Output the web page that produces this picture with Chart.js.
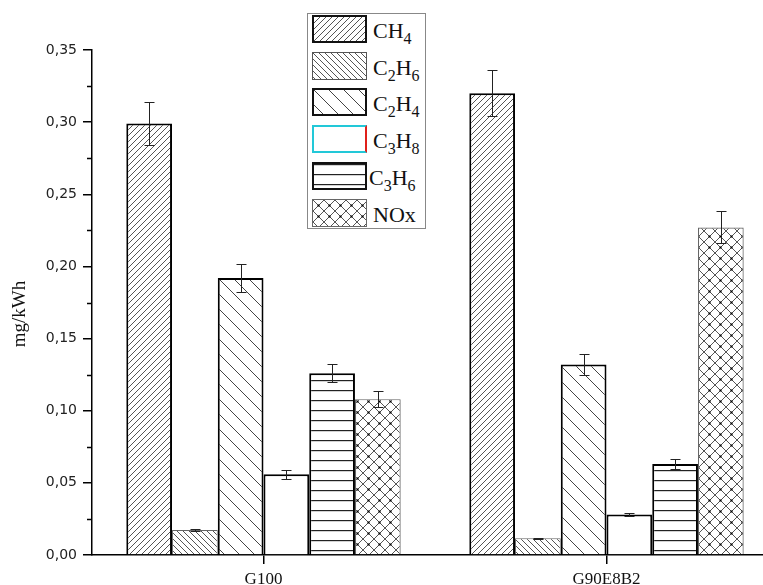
<!DOCTYPE html>
<html><head><meta charset="utf-8">
<script src="https://cdn.jsdelivr.net/npm/chart.js@4"></script>
<style>
html,body{margin:0;padding:0;overflow:hidden;background:#fff;}
#wrap{position:relative;width:763px;height:585px;overflow:hidden;}
#c{position:absolute;left:0;top:0;}
#legend{position:absolute;left:307px;top:13px;width:119px;height:216px;border:1px solid #888;box-sizing:border-box;background:#fff;font-family:'Liberation Serif',serif;color:#111;}
.row{position:absolute;left:4px;height:28px;width:110px;}
.sw{position:absolute;left:0;top:0;width:55px;height:28px;box-sizing:border-box;background-color:#fff;}
.lb{position:absolute;left:61px;top:2px;line-height:28px;font-size:22px;white-space:nowrap;}
.lb sub{font-size:16px;vertical-align:-6px;line-height:0;}
</style></head>
<body><div id="wrap"><canvas id="c" width="790" height="585"></canvas><div id="legend"></div></div>
<script>
// ---- data ----
const categories = ['G100', 'G90E8B2'];
const seriesNames = ['CH4', 'C2H6', 'C2H4', 'C3H8', 'C3H6', 'NOx'];
const legendLabels = ['CH<sub>4</sub>', 'C<sub>2</sub>H<sub>6</sub>', 'C<sub>2</sub>H<sub>4</sub>', 'C<sub>3</sub>H<sub>8</sub>', 'C<sub>3</sub>H<sub>6</sub>', 'NOx'];
const ch4  = [0.299, 0.320];
const c2h6 = [0.0173, 0.0116];
const c2h4 = [0.192, 0.132];
const c3h8 = [0.056, 0.028];
const c3h6 = [0.126, 0.063];
const nox  = [0.108, 0.227];
const ch4Err  = [0.015, 0.016];
const c2h6Err = [0.001, 0.0005];
const c2h4Err = [0.0095, 0.0073];
const c3h8Err = [0.003, 0.0013];
const c3h6Err = [0.0062, 0.0035];
const noxErr  = [0.0055, 0.0111];
const yMin = 0, yMax = 0.35, yStep = 0.05;
const yTitle = 'mg/kWh';

const values = [ch4, c2h6, c2h4, c3h8, c3h6, nox];
const errors = [ch4Err, c2h6Err, c2h4Err, c3h8Err, c3h6Err, noxErr];

// ---- patterns ----
function tile(size, draw){
  const c = document.createElement('canvas'); c.width = size; c.height = size;
  const x = c.getContext('2d'); x.fillStyle = '#fff'; x.fillRect(0,0,size,size);
  draw(x, size); return c;
}
function fwd(x,s,col,lw){ x.strokeStyle=col; x.lineWidth=lw; x.beginPath();
  x.moveTo(-1,s+1); x.lineTo(s+1,-1); x.moveTo(-1,1); x.lineTo(1,-1); x.moveTo(s-1,s+1); x.lineTo(s+1,s-1); x.stroke(); }
function back(x,s,col,lw){ x.strokeStyle=col; x.lineWidth=lw; x.beginPath();
  x.moveTo(-1,-1); x.lineTo(s+1,s+1); x.moveTo(s-1,-1); x.lineTo(s+1,1); x.moveTo(-1,s-1); x.lineTo(1,s+1); x.stroke(); }
const tiles = [
  tile(6, (x,s)=>fwd(x,s,'#555',1)),
  tile(6, (x,s)=>back(x,s,'#555',1)),
  tile(15, (x,s)=>back(x,s,'#444',1)),
  tile(8, (x,s)=>{}),
  tile(10, (x,s)=>{ x.fillStyle='#222'; x.fillRect(0,0,s,1.2); }),
  tile(11, (x,s)=>{ fwd(x,s,'#555',1); back(x,s,'#555',1); x.fillStyle='#000'; x.fillRect(4.5,4.5,2,2); })
];
const ctx0 = document.getElementById('c').getContext('2d');
const patterns = tiles.map(t => ctx0.createPattern(t, 'repeat'));
const borderColors = ['#000', '#666', '#000', '#000', '#000', '#666'];
const borderWidths = [2, 1, 2, 2, 2, 1.2];

// ---- legend (HTML) ----
const legend = document.getElementById('legend');
const rowTops = [1, 38, 74, 111, 148, 185];
const swBorders = ['2px solid #111', '1px solid #555', '2px solid #111', '', '2px solid #111', '1px solid #666'];
legendLabels.forEach((lab, i) => {
  const row = document.createElement('div'); row.className = 'row'; row.style.top = rowTops[i] + 'px';
  const sw = document.createElement('div'); sw.className = 'sw';
  sw.style.backgroundImage = 'url(' + tiles[i].toDataURL() + ')';
  if (i === 3) { sw.style.border = '2px solid #22c8d8'; sw.style.borderRightColor = '#e0201a'; }
  else sw.style.border = swBorders[i];
  const lb = document.createElement('div'); lb.className = 'lb'; lb.innerHTML = lab;
  if (i === 4) lb.style.left = '57px';
  row.appendChild(sw); row.appendChild(lb); legend.appendChild(row);
});

// ---- plugins ----
const extras = {
  id: 'extras',
  afterDatasetsDraw(chart) {
    const ctx = chart.ctx, ys = chart.scales.y;
    ctx.save();
    ctx.strokeStyle = '#222'; ctx.lineWidth = 1;
    chart.data.datasets.forEach((ds, i) => {
      const meta = chart.getDatasetMeta(i);
      meta.data.forEach((bar, j) => {
        const v = ds.data[j], e = errors[i][j];
        const x = Math.round(bar.x) + 0.5;
        const t = Math.round(ys.getPixelForValue(v + e)) + 0.5;
        const b = Math.round(ys.getPixelForValue(v - e)) + 0.5;
        ctx.beginPath();
        ctx.moveTo(x, t); ctx.lineTo(x, b);
        ctx.moveTo(x - 5, t); ctx.lineTo(x + 5, t);
        ctx.moveTo(x - 5, b); ctx.lineTo(x + 5, b);
        ctx.stroke();
      });
    });
    ctx.restore();
  },
  afterDraw(chart) {
    const ctx = chart.ctx, ys = chart.scales.y, left = chart.chartArea.left;
    ctx.save();
    ctx.strokeStyle = '#000'; ctx.lineWidth = 1.5;
    ctx.beginPath();
    for (let v = yMin + yStep / 2; v < yMax; v += yStep) {
      const y = Math.round(ys.getPixelForValue(v)) + 0.5;
      ctx.moveTo(left - 5, y); ctx.lineTo(left, y);
    }
    ctx.stroke();
    ctx.fillStyle = '#111';
    ctx.font = '19px "Liberation Serif", serif';
    ctx.textAlign = 'center'; ctx.textBaseline = 'middle';
    ctx.translate(20, 314); ctx.rotate(-Math.PI / 2);
    ctx.fillText(yTitle, 0, 0);
    ctx.restore();
  }
};

new Chart(document.getElementById('c'), {
  type: 'bar',
  data: {
    labels: categories,
    datasets: seriesNames.map((n, i) => ({
      label: n, data: values[i],
      backgroundColor: patterns[i], borderColor: borderColors[i], borderWidth: borderWidths[i],
      categoryPercentage: 0.8, barPercentage: 1.0
    }))
  },
  options: {
    responsive: false, animation: false, events: [],
    layout: { padding: { top: 50, right: 12, left: 0, bottom: 0 } },
    plugins: { legend: { display: false }, tooltip: { enabled: false }, title: { display: false } },
    scales: {
      x: {
        offset: true,
        grid: { offset: false, drawOnChartArea: false, drawTicks: true, tickLength: 9, color: '#000', lineWidth: 1.5 },
        border: { display: true, color: '#000', width: 1.5 },
        ticks: { font: { family: 'Liberation Serif', size: 17 }, color: '#111', padding: 5, maxRotation: 0 },
        afterFit: s => { s.height = 30; }
      },
      y: {
        min: yMin, max: yMax,
        grid: { drawOnChartArea: false, drawTicks: true, tickLength: 9, color: '#000', lineWidth: 1.5 },
        border: { display: true, color: '#000', width: 1.5 },
        ticks: { stepSize: yStep, padding: 6, color: '#222', font: { family: 'DejaVu Sans', size: 14 },
          callback: v => Number(v).toFixed(2).replace('.', ',') },
        afterFit: s => { s.width = 92; }
      }
    }
  },
  plugins: [extras]
});
</script>
</body></html>
